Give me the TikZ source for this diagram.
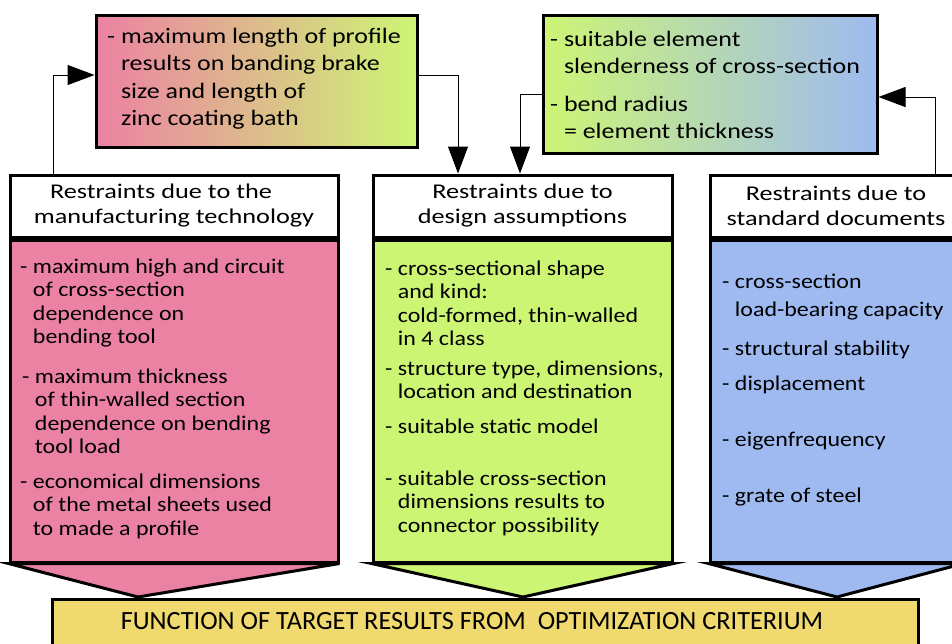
\documentclass[tikz,border=0pt]{standalone}
\usepackage{fontspec}
\setmainfont{Carlito}
\newfontfamily\hdrfont{Carlito}[FakeStretch=1.25]
\newfontfamily\bodyfont{Carlito}[FakeStretch=1.14]
\newfontfamily\topfont{Carlito}[FakeStretch=1.18]
\usetikzlibrary{arrows.meta}
\definecolor{pinkc}{HTML}{EC82A3}
\definecolor{greenc}{HTML}{CDF574}
\definecolor{bluec}{HTML}{9EBAF1}
\definecolor{yellowc}{HTML}{F0D96F}
\newcommand\ind{\hphantom{-}\ }
\newcommand\lines[1]{\begin{tabular}[t]{@{}l@{}}#1\end{tabular}}
\tikzset{
  boxline/.style={draw=black, line width=3pt},
  hdr/.style={boxline, fill=white, align=center, inner sep=0pt,
    font=\hdrfont\fontsize{21}{25}\selectfont},
  bodybox/.style={boxline, inner sep=0pt},
  item/.style={anchor=base west, inner sep=0pt,
    font=\bodyfont\fontsize{21}{23.5}\selectfont},
  itemw/.style={anchor=base west, inner sep=0pt,
    font=\bodyfont\fontsize{21}{28}\selectfont},
  itemt/.style={anchor=base west, inner sep=0pt,
    font=\topfont\fontsize{22}{27.5}\selectfont},
  conn/.style={draw=black, line width=1pt, -{Triangle[length=27pt,width=20pt]}},
}
\begin{document}
\begin{tikzpicture}[x=1pt,y=-1pt]
\useasboundingbox (0,0) rectangle (952,643);
\clip (0,0) rectangle (952,643);
% top boxes
\node[boxline, left color=pinkc, right color=greenc, minimum width=321pt, minimum height=132pt, inner sep=0pt] (tl) at (256.5,81) {};
\node[boxline, left color=greenc, right color=bluec, minimum width=334pt, minimum height=138pt, inner sep=0pt] (tr) at (710,84) {};
\node[itemt] (tlt) at (107,43) {\lines{- maximum length of profile\\\ind results on banding brake\\\ind size and length of\\\ind zinc coating bath}};
\node[itemt] (tra) at (550,46) {\lines{- suitable element\\\ind slenderness of cross-section}};
\node[itemt] (trb) at (550,111) {\lines{- bend radius\\\ind = element thickness}};
% bottom box
\node[boxline, fill=yellowc, minimum width=866pt, minimum height=70pt, inner sep=0pt] (fb) at (485,634) {};
% columns
\node[hdr, minimum width=328pt, minimum height=62pt] (h1) at (174,206) {Restraints due to the\hspace*{26pt}\\manufacturing technology};
\node[hdr, minimum width=299pt, minimum height=62pt] (h2) at (522.5,206) {Restraints due to\\design assumptions};
\node[hdr, minimum width=252pt, minimum height=62pt] (h3) at (836,206) {Restraints due to\\standard documents};
\node[bodybox, fill=pinkc, minimum width=328pt, minimum height=322pt, anchor=north] (b1) at (h1.south) {};
\node[bodybox, fill=greenc, minimum width=299pt, minimum height=322pt, anchor=north] (b2) at (h2.south) {};
\node[bodybox, fill=bluec, minimum width=252pt, minimum height=322pt, anchor=north] (b3) at (h3.south) {};
\coordinate (t1) at (138,597);
\coordinate (t2) at (523,597);
\coordinate (t3) at (837,597);
\draw[boxline, fill=pinkc, line join=miter] (b1.south west) -- (t1) -- (b1.south east) -- cycle;
\draw[boxline, fill=greenc, line join=miter] (b2.south west) -- (t2) -- (b2.south east) -- cycle;
\draw[boxline, fill=bluec, line join=miter] (b3.south west) -- (t3) -- (b3.south east) -- cycle;
% column texts
\node[item] (l1) at (20,273) {\lines{- maximum high and circuit\\\ind of cross-section\\\ind dependence on\\\ind bending tool}};
\node[item] (l2) at (22,383) {\lines{- maximum thickness\\\ind of thin-walled section\\\ind dependence on bending\\\ind tool load}};
\node[item] (l3) at (20,488) {\lines{- economical dimensions\\\ind of the metal sheets used\\\ind to made a profile}};
\node[item] (m1) at (385,275) {\lines{- cross-sectional shape\\\ind and kind:\\\ind cold-formed, thin-walled\\\ind in 4 class}};
\node[item] (m2) at (385,375) {\lines{- structure type, dimensions,\\\ind location and destination}};
\node[item] (m3) at (385,433) {\lines{- suitable static model}};
\node[item] (m4) at (385,485) {\lines{- suitable cross-section\\\ind dimensions results to\\\ind connector possibility}};
\node[itemw] (r1) at (722,288) {\lines{- cross-section\\\ind load-bearing capacity}};
\node[item] (r2) at (722,355) {\lines{- structural stability}};
\node[item] (r3) at (722,390) {\lines{- displacement}};
\node[item] (r4) at (722,446) {\lines{- eigenfrequency}};
\node[item] (r5) at (722,502) {\lines{- grate of steel}};
\node[font=\fontsize{26.3}{30}\selectfont, inner sep=0pt] (ft) at (472,621) {FUNCTION OF TARGET RESULTS FROM \ OPTIMIZATION CRITERIUM};
% connectors
\draw[conn] ([xshift=45pt]h1.north west) |- ([yshift=6pt]tl.west);
\draw[conn] ([yshift=6pt]tl.east) -| ([xshift=-64.5pt]h2.north);
\draw[conn] ([yshift=-10pt]tr.west) -| ([xshift=-2.5pt]h2.north);
\draw[conn] ([xshift=227pt]h3.north west) |- ([yshift=-13pt]tr.east);
\end{tikzpicture}
\end{document}
